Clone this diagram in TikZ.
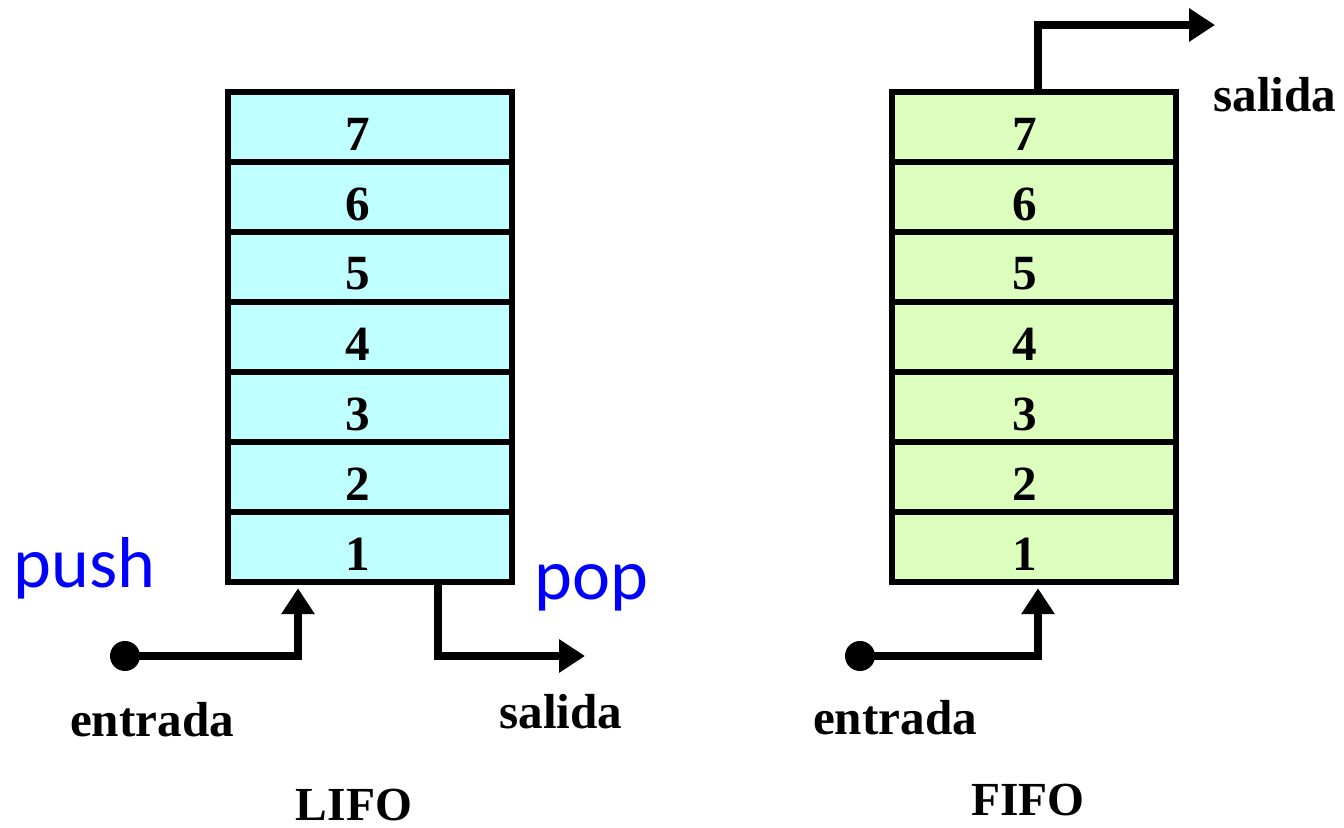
\documentclass[tikz,border=0pt]{standalone}
\usepackage{fontspec}
\setmainfont{Liberation Serif}
\newfontfamily\calfont{Carlito}
\usetikzlibrary{arrows.meta}

\tikzset{
	cell/.style={draw,line width=0.065cm,fill=#1,minimum width=2.84cm,minimum height=0.70cm,inner sep=0pt},
	num/.style={font=\fontsize{14}{16}\selectfont\bfseries},
	flow/.style={line width=0.075cm,line join=miter,-{Triangle[length=0.26cm,width=0.32cm]}},
	dot/.style={circle,fill=black,inner sep=0pt,minimum size=0.30cm},
	lbl/.style={font=\fontsize{14}{16}\selectfont\bfseries},
	op/.style={font=\calfont\fontsize{20.5}{24}\selectfont,text=blue}
}
\definecolor{lifocyan}{RGB}{192,255,255}
\definecolor{fifogreen}{RGB}{221,255,189}

\begin{document}
\begin{tikzpicture}
	\useasboundingbox (0,0) rectangle (13.44,8.28);

	% LIFO stack
	\node[cell=lifocyan] (L1) at (3.70,2.81) {};
	\node[cell=lifocyan] (L2) at (3.70,3.51) {};
	\node[cell=lifocyan] (L3) at (3.70,4.21) {};
	\node[cell=lifocyan] (L4) at (3.70,4.91) {};
	\node[cell=lifocyan] (L5) at (3.70,5.61) {};
	\node[cell=lifocyan] (L6) at (3.70,6.31) {};
	\node[cell=lifocyan] (L7) at (3.70,7.01) {};
	\node[num] at ([xshift=-0.12cm,yshift=-0.07cm]L1) {1};
	\node[num] at ([xshift=-0.12cm,yshift=-0.07cm]L2) {2};
	\node[num] at ([xshift=-0.12cm,yshift=-0.07cm]L3) {3};
	\node[num] at ([xshift=-0.12cm,yshift=-0.07cm]L4) {4};
	\node[num] at ([xshift=-0.12cm,yshift=-0.07cm]L5) {5};
	\node[num] at ([xshift=-0.12cm,yshift=-0.07cm]L6) {6};
	\node[num] at ([xshift=-0.12cm,yshift=-0.07cm]L7) {7};

	% FIFO queue
	\node[cell=fifogreen] (F1) at (10.34,2.81) {};
	\node[cell=fifogreen] (F2) at (10.34,3.51) {};
	\node[cell=fifogreen] (F3) at (10.34,4.21) {};
	\node[cell=fifogreen] (F4) at (10.34,4.91) {};
	\node[cell=fifogreen] (F5) at (10.34,5.61) {};
	\node[cell=fifogreen] (F6) at (10.34,6.31) {};
	\node[cell=fifogreen] (F7) at (10.34,7.01) {};
	\node[num] at ([xshift=-0.09cm,yshift=-0.07cm]F1) {1};
	\node[num] at ([xshift=-0.09cm,yshift=-0.07cm]F2) {2};
	\node[num] at ([xshift=-0.09cm,yshift=-0.07cm]F3) {3};
	\node[num] at ([xshift=-0.09cm,yshift=-0.07cm]F4) {4};
	\node[num] at ([xshift=-0.09cm,yshift=-0.07cm]F5) {5};
	\node[num] at ([xshift=-0.09cm,yshift=-0.07cm]F6) {6};
	\node[num] at ([xshift=-0.09cm,yshift=-0.07cm]F7) {7};

	% LIFO in and out
	\node[dot] (LinDot) at (1.25,1.72) {};
	\coordinate (Lin) at (2.98,1.72);
	\coordinate (Lout) at (4.38,1.72);
	\coordinate (LoutEnd) at (5.85,1.72);
	\draw[flow,shorten >=0.03cm] (LinDot.center) -- (Lin) -- (Lin |- L1.south);
	\draw[flow] (Lout |- L1.south) -- (Lout) -- (LoutEnd);

	% FIFO in and out
	\node[dot] (FinDot) at (8.60,1.72) {};
	\coordinate (Fin) at (10.38,1.72);
	\coordinate (Fout) at (10.38,8.03);
	\coordinate (FoutEnd) at (12.15,8.03);
	\draw[flow,shorten >=0.03cm] (FinDot.center) -- (Fin) -- (Fin |- F1.south);
	\draw[flow] (Fout |- F7.north) -- (Fout) -- (FoutEnd);

	\node[op,anchor=base west] (Push) at (0.01,2.40) {push};
	\node[op,anchor=base west] (Pop) at (5.22,2.28) {pop};

	\node[lbl] (LEntrada) at (1.52,1.08) {entrada};
	\node[lbl] (LSalida) at (5.61,1.16) {salida};
	\node[lbl] (FEntrada) at (8.95,1.10) {entrada};
	\node[lbl] (FSalida) at (12.75,7.33) {salida};

	\node[lbl,font=\fontsize{13.5}{16}\selectfont\bfseries] (LIFO) at (3.54,0.23) {LIFO};
	\node[lbl,font=\fontsize{13.5}{16}\selectfont\bfseries] (FIFO) at (10.28,0.28) {FIFO};
\end{tikzpicture}
\end{document}
